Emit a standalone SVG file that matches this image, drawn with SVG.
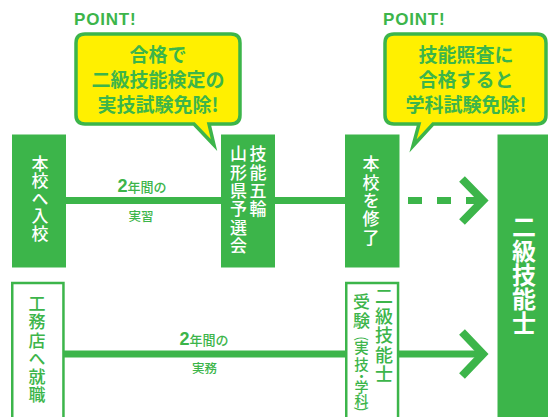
<svg xmlns="http://www.w3.org/2000/svg" width="548" height="417" viewBox="0 0 548 417">
<style>
.jp{font-family:"Noto Sans CJK JP","Noto Sans",sans-serif}
.lat{font-family:"Liberation Sans",Arial,sans-serif;font-weight:bold}
.w{fill:#ffffff}
.g{fill:#3cb54a}
.box{fill:#3cb54a}
.obox{fill:#ffffff;stroke:#3cb54a;stroke-width:2.5}
.callout{fill:#fff000;stroke:#3cb54a;stroke-width:3.5;stroke-linejoin:miter;stroke-miterlimit:12}
.ct{font-size:19px;font-weight:bold;text-anchor:middle}
.pt{font-size:17px;letter-spacing:0.8px}
.ln{stroke:#3cb54a;stroke-width:7;fill:none}
.chev{stroke:#3cb54a;stroke-width:8;fill:none;stroke-linejoin:miter}
.vt{writing-mode:vertical-rl;text-orientation:upright;text-anchor:start;font-size:17px;font-weight:500}
</style>

<g id="connectors">
  <line class="ln" x1="66" y1="200.5" x2="345" y2="200.5"/>
  <line class="ln" x1="408" y1="200.5" x2="481" y2="200.5" stroke-dasharray="14 15"/>
  <polyline class="chev" points="462,179 483,200.5 462,222"/>
  <line class="ln" x1="64" y1="354" x2="482" y2="354"/>
  <polyline class="chev" points="462,332 483,354 462,376"/>
  <text class="g" x="142" y="192" text-anchor="middle"><tspan class="lat" font-size="18">2</tspan><tspan class="jp" font-size="13" font-weight="500">年間の</tspan></text>
  <text class="jp g" x="141" y="221" text-anchor="middle" font-size="12.5" font-weight="500">実習</text>
  <text class="g" x="204" y="345" text-anchor="middle"><tspan class="lat" font-size="18">2</tspan><tspan class="jp" font-size="13" font-weight="500">年間の</tspan></text>
  <text class="jp g" x="204.5" y="372.5" text-anchor="middle" font-size="12.5" font-weight="500">実務</text>
</g>

<g id="point1">
  <text class="lat pt g" x="74" y="25">POINT!</text>
  <path class="callout" d="M85,34 H231 Q240,34 240,43 V115 Q240,124 231,124 H209 L214,145 L194,124 H85 Q76,124 76,115 V43 Q76,34 85,34 Z"/>
  <text class="jp ct g" x="158" y="62">合格で</text>
  <text class="jp ct g" x="158" y="87">二級技能検定の</text>
  <text class="jp ct g" x="158" y="112">実技試験免除!</text>
</g>

<g id="point2">
  <text class="lat pt g" x="383" y="25">POINT!</text>
  <path class="callout" d="M394,34 H537 Q546,34 546,43 V115 Q546,124 537,124 H433 L413,146 L419,124 H394 Q385,124 385,115 V43 Q385,34 394,34 Z"/>
  <text class="jp ct g" x="466" y="62">技能照査に</text>
  <text class="jp ct g" x="466" y="87">合格すると</text>
  <text class="jp ct g" x="466" y="112">学科試験免除!</text>
</g>

<g id="node-nyuko">
  <rect class="box" x="12" y="134.5" width="54" height="133"/>
  <text class="jp vt w" x="40" y="154.75" letter-spacing="0.5">本校へ入校</text>
</g>

<g id="node-gorin">
  <rect class="box" x="221" y="134.5" width="54" height="133"/>
  <text class="jp vt w" x="258" y="145.3" letter-spacing="1.4">技能五輪</text>
  <text class="jp vt w" x="238.5" y="145.3" letter-spacing="1.4">山形県予選会</text>
</g>

<g id="node-shuryo">
  <rect class="box" x="345" y="134.5" width="54.5" height="133"/>
  <text class="jp vt w" x="371" y="155.35" letter-spacing="1.3">本校を修了</text>
</g>

<g id="node-ginoshi">
  <rect class="box" x="497.5" y="134.5" width="52" height="283"/>
  <text class="jp vt w" x="524" y="215" style="font-size:24px;font-weight:bold">二級技能士</text>
</g>

<g id="node-komuten">
  <rect class="obox" x="12.25" y="283" width="51.2" height="140"/>
  <text class="jp vt g" x="37" y="295.45" letter-spacing="1.1">工務店へ就職</text>
</g>

<g id="node-juken">
  <rect class="obox" x="346.25" y="283" width="51.8" height="140"/>
  <text class="jp vt g" x="384" y="287.25" letter-spacing="1.5" style="font-size:18px">二級技能士</text>
  <text class="jp vt g" x="361.5" y="292.75" letter-spacing="2.5">受験</text>
  <text class="jp g" font-size="14" text-anchor="middle" transform="translate(361.5,338.5) rotate(90)" x="0" y="4.5">(</text>
  <text class="jp vt g" x="361.5" y="340.25" letter-spacing="2" style="font-size:14.5px">実技</text>
  <text class="jp g" font-size="14" text-anchor="middle" x="361.5" y="380.5">・</text>
  <text class="jp vt g" x="361.5" y="379.75" letter-spacing="-0.5" style="font-size:14px">学科</text>
  <text class="jp g" font-size="14" text-anchor="middle" transform="translate(361.5,409) rotate(90)" x="0" y="4.5">)</text>
</g>
</svg>
